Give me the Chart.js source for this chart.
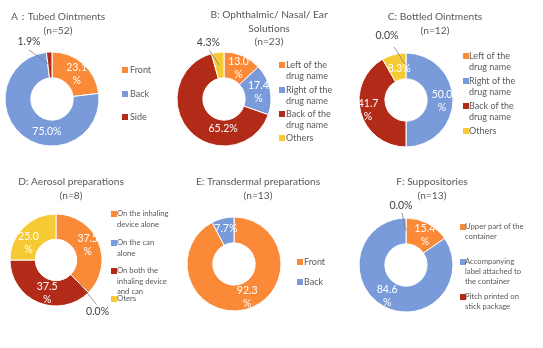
<!DOCTYPE html>
<html>
<head>
<meta charset="utf-8">
<script src="https://cdn.jsdelivr.net/npm/chart.js@4.4.1/dist/chart.umd.min.js"></script>
<style>
  body { margin: 0; background: #fff; }
  #wrap { position: relative; width: 543px; height: 348px; }
  #wrap canvas { position: absolute; left: 0; top: 0; }
</style>
</head>
<body>
<div id="wrap"></div>
<script>
const ORANGE = "#FA8A38";
const BLUE = "#799BDA";
const RED = "#B22B19";
const YELLOW = "#F6CA33";

// data
const titleA = ["A\uFF1ATubed Ointments", "(n=52)"];
const catA = ["Front", "Back", "Side"];
const valA = [23.1, 75.0, 1.9];

const titleB = ["B: Ophthalmic/ Nasal/ Ear", "Solutions", "(n=23)"];
const catB = ["Left of the\ndrug name", "Right of the\ndrug name", "Back of the\ndrug name", "Others"];
const valB = [13.0, 17.4, 65.2, 4.3];

const titleC = ["C: Bottled Ointments", "(n=12)"];
const catC = ["Left of the\ndrug name", "Right of the\ndrug name", "Back of the\ndrug name", "Others"];
const valC = [0.0, 50.0, 41.7, 8.3];

const titleD = ["D: Aerosol preparations", "(n=8)"];
const catD = ["On the inhaling\ndevice alone", "On the can\nalone", "On both the\ninhaling device\nand can", "Oters"];
const valD = [37.5, 0.0, 37.5, 25.0];

const titleE = ["E: Transdermal preparations", "(n=13)"];
const catE = ["Front", "Back"];
const valE = [92.3, 7.7];

const titleF = ["F: Suppositories", "(n=13)"];
const catF = ["Upper part of the\ncontainer", "Accompanying\nlabel attached to\nthe container", "Pitch printed on\nstick package"];
const valF = [15.4, 84.6, 0.0];

// layout / style per panel
const panels = [
    {
        title: titleA, labels: catA, values: valA, colors: [ORANGE, BLUE, RED],
        cx: 52, cy: 99, r: 47, titleX: 58, titleY: 17,
        wrap: [true, false, false], nudge: [[2, 1], [16, 6], [0, 0]],
        outside: { 2: { ox: -21, oy: -23, lx: 0, ly: 8 } },
        legend: { sqX: 122, textX: 130, ys: [70, 94, 117], font: 9, pitch: 11 },
    },
    {
        title: titleB, labels: catB, values: valB, colors: [ORANGE, BLUE, RED, YELLOW],
        cx: 224, cy: 99, r: 47, titleX: 269, titleY: 15,
        wrap: [true, true, false, false], nudge: [[1, 0], [1, 0], [24, 6], [0, 0]],
        outside: { 3: { ox: -11, oy: -23, lx: 1, ly: 8 } },
        legend: { sqX: 279, textX: 286, ys: [65, 90, 114, 138], font: 9, pitch: 11.5 },
    },
    {
        title: titleC, labels: catC, values: valC, colors: [ORANGE, BLUE, RED, YELLOW],
        cx: 406, cy: 100, r: 47, titleX: 435, titleY: 17,
        wrap: [false, true, true, false], nudge: [[0, 0], [2, 1], [-5, 1], [2, 2]],
        outside: { 0: { ox: -19, oy: -30, lx: 7, ly: 11 } },
        legend: { sqX: 463, textX: 469, ys: [56, 81, 106, 131], font: 9, pitch: 11.5 },
    },
    {
        title: titleD, labels: catD, values: valD, colors: [ORANGE, BLUE, RED, YELLOW],
        cx: 56, cy: 260, r: 46, titleX: 71, titleY: 182,
        wrap: [true, false, true, true], nudge: [[1, -2], [0, 0], [4, 2], [-4, 7]],
        outside: { 1: { ox: 18, oy: 28, lx: -1, ly: -7 } },
        legend: { sqX: 111, textX: 117, ys: [214, 243, 271, 299], font: 7.7, pitch: 10.5 },
    },
    {
        title: titleE, labels: catE, values: valE, colors: [ORANGE, BLUE],
        cx: 234, cy: 264, r: 47, titleX: 258, titleY: 182,
        wrap: [true, false], nudge: [[5, 0], [0, -2]],
        outside: {},
        legend: { sqX: 297, textX: 304, ys: [262, 282], font: 9, pitch: 11 },
    },
    {
        title: titleF, labels: catF, values: valF, colors: [ORANGE, BLUE, RED],
        cx: 406, cy: 265, r: 47, titleX: 432, titleY: 182,
        wrap: [true, true, false], nudge: [[3, 0], [-3, 1], [0, 0]],
        outside: { 2: { ox: -5, oy: -25, lx: 1, ly: 7 } },
        legend: { sqX: 460, textX: 465, ys: [227, 262, 297], font: 7.7, pitch: 10 },
    },
];

const FONT = "Lato, 'Noto Sans', sans-serif";

const panelPlugin = {
    id: "panelDeco",
    afterDatasetsDraw(chart, args, opts) {
        const p = opts.panel;
        const ctx = chart.ctx;
        ctx.save();
        // title
        ctx.fillStyle = "#595959";
        ctx.font = "10.2px " + FONT;
        ctx.textAlign = "center";
        ctx.textBaseline = "middle";
        p.title.forEach((t, i) => ctx.fillText(t, p.titleX, p.titleY + i * 13.5));

        // data labels
        const arcs = chart.getDatasetMeta(0).data;
        arcs.forEach((arc, i) => {
            const v = p.values[i];
            const tp = arc.tooltipPosition();
            const txt = v.toFixed(1) + "%";
            const out = p.outside[i];
            ctx.font = "10.5px " + FONT;
            if (out) {
                const lx = tp.x + out.ox;
                const ly = tp.y + out.oy;
                ctx.strokeStyle = "#7F7F7F";
                ctx.lineWidth = 0.8;
                ctx.beginPath();
                ctx.moveTo(tp.x, tp.y);
                ctx.lineTo(lx + out.lx, ly + out.ly);
                ctx.stroke();
                ctx.fillStyle = "#404040";
                ctx.fillText(txt, lx, ly);
                return;
            }
            const x = tp.x + p.nudge[i][0];
            const y = tp.y + p.nudge[i][1];
            ctx.fillStyle = "#fff";
            if (p.wrap[i]) {
                ctx.fillText(v.toFixed(1), x, y - 6.5);
                ctx.fillText("%", x, y + 6.5);
            } else {
                ctx.fillText(txt, x, y);
            }
        });

        // legend
        const lg = p.legend;
        ctx.textAlign = "left";
        ctx.font = lg.font + "px " + FONT;
        p.labels.forEach((lab, i) => {
            const y = lg.ys[i];
            ctx.fillStyle = p.colors[i];
            ctx.fillRect(lg.sqX, y - 3, 6, 6);
            ctx.fillStyle = "#595959";
            lab.split("\n").forEach((line, k) => ctx.fillText(line, lg.textX, y + k * lg.pitch));
        });
        ctx.restore();
    },
};

const W = 543, H = 348;
const wrap = document.getElementById("wrap");

panels.forEach((p) => {
    const canvas = document.createElement("canvas");
    canvas.width = W;
    canvas.height = H;
    wrap.appendChild(canvas);
    const half = p.r + 0.5;
    new Chart(canvas.getContext("2d"), {
        type: "doughnut",
        data: {
            labels: p.labels,
            datasets: [
                {
                    data: p.values,
                    backgroundColor: p.colors,
                    borderColor: "#fff",
                    borderWidth: 1,
                },
            ],
        },
        options: {
            responsive: false,
            animation: false,
            cutout: "45%",
            layout: {
                padding: {
                    left: p.cx - half,
                    top: p.cy - half,
                    right: W - (p.cx + half),
                    bottom: H - (p.cy + half),
                },
            },
            events: [],
            plugins: {
                legend: { display: false },
                tooltip: { enabled: false },
                title: { display: false },
                panelDeco: { panel: p },
            },
        },
        plugins: [panelPlugin],
    });
});
</script>
</body>
</html>
